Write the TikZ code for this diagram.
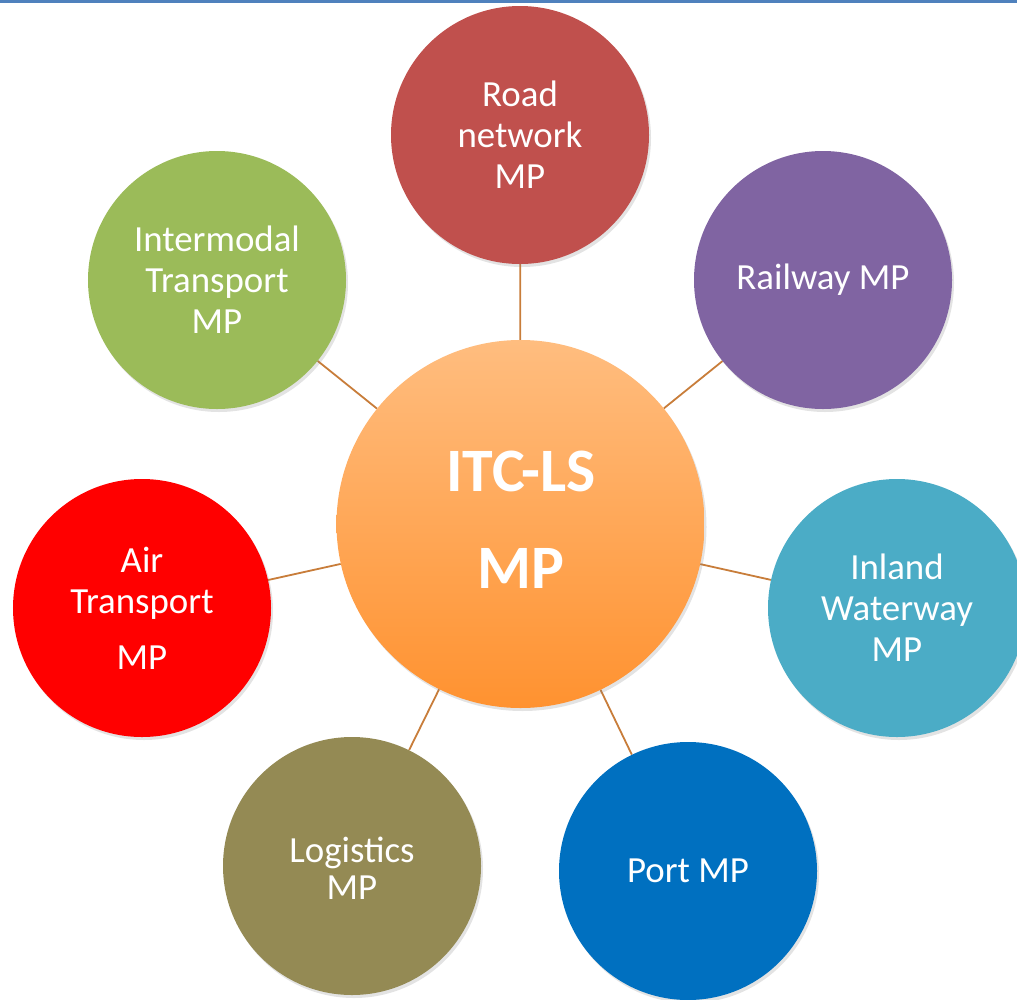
\documentclass[tikz,border=0pt]{standalone}
\usepackage{fontspec}
\setmainfont{Carlito}
\usetikzlibrary{shadows,backgrounds}
\definecolor{topblue}{HTML}{4F81BD}
\definecolor{roadc}{HTML}{C0504D}
\definecolor{railc}{HTML}{8064A2}
\definecolor{inlandc}{HTML}{4BACC6}
\definecolor{portc}{HTML}{0070C0}
\definecolor{logc}{HTML}{948A54}
\definecolor{airc}{HTML}{FF0000}
\definecolor{interc}{HTML}{9BBB59}
\definecolor{ctop}{HTML}{FFBD7F}
\definecolor{cbot}{HTML}{FF9230}
\definecolor{linkc}{HTML}{C87D3A}
\tikzset{
  mpcircle/.style={circle, minimum size=258bp, inner sep=0pt, text=white, align=center,
    font=\fontsize{37}{41}\selectfont,
    drop shadow={opacity=0.22, shadow xshift=2bp, shadow yshift=-3bp}},
  hub/.style={circle, minimum size=368bp, inner sep=0pt, text=white, align=center,
    top color=ctop, bottom color=cbot,
    font=\bfseries\fontsize{62}{97}\selectfont,
    drop shadow={opacity=0.22, shadow xshift=2bp, shadow yshift=-3bp}},
  link/.style={draw=linkc, line width=1.8bp}
}
\begin{document}
\begin{tikzpicture}[x=1bp,y=-1bp]
\useasboundingbox (0,0) rectangle (1017,1000);
\clip (0,0) rectangle (1017,1000);
\fill[topblue] (0,0) rectangle (1017,3);
\node[hub] (c) at (520.5,524) {};
\node[text=white, align=center, font=\bfseries\fontsize{62}{97}\selectfont] (ct) at (521,520) {ITC-LS\\MP};
\node[mpcircle, fill=roadc] (road) at (520,135) {Road\\network\\MP};
\node[mpcircle, fill=railc] (rail) at (823,280) {Railway MP};
\node[mpcircle, fill=inlandc] (inland) at (897,608) {Inland\\Waterway\\MP};
\node[mpcircle, fill=portc] (port) at (688,871) {Port MP};
\node[mpcircle, fill=logc] (log) at (352,866) {\smash{\raisebox{-13bp}{\begin{tabular}{@{}c@{}}Logistics\\[-3bp]MP\end{tabular}}}};
\node[mpcircle, fill=airc] (air) at (142,608) {Air\\Transport\\[15bp]MP};
\node[mpcircle, fill=interc] (inter) at (217,280) {Intermodal\\Transport\\MP};
\begin{scope}[on background layer]
\foreach \n in {road,rail,inland,port,log,air,inter}
  \draw[link] (c) -- (\n);
\end{scope}
\end{tikzpicture}
\end{document}
